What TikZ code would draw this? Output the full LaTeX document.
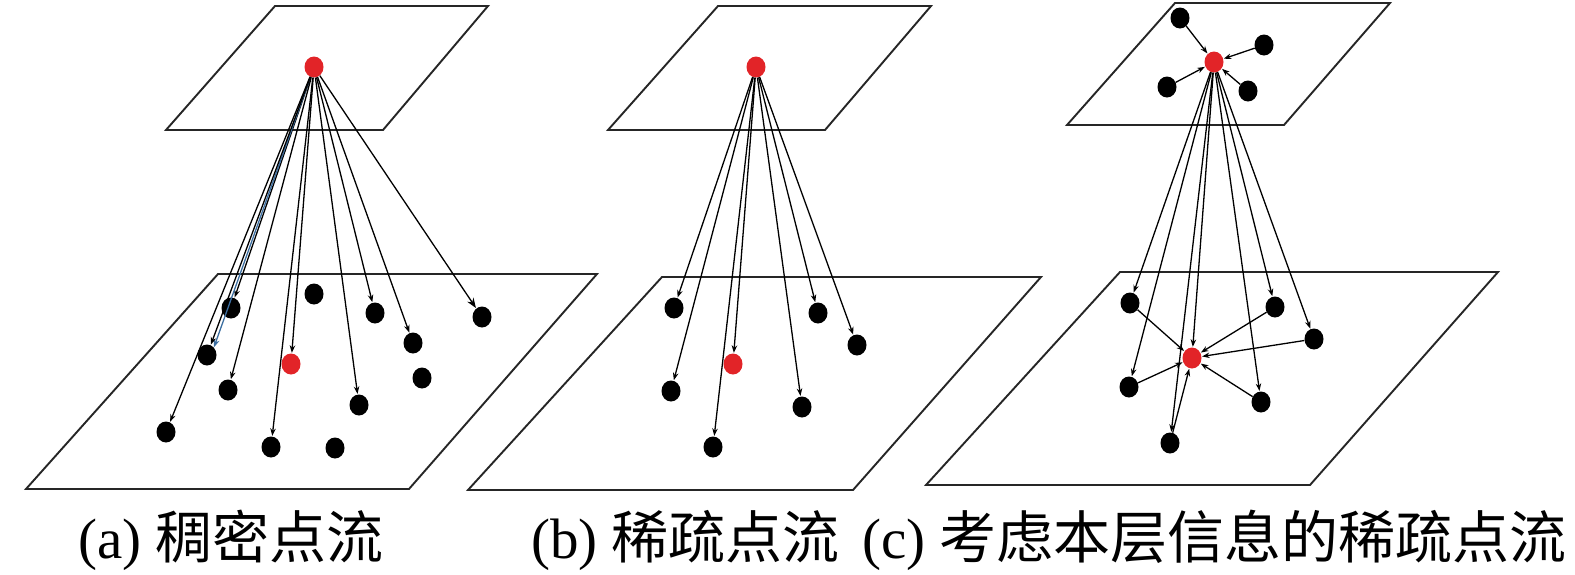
\documentclass[tikz,border=0pt]{standalone}
\usepackage{fontspec}
\setmainfont{Liberation Serif}
\newfontfamily\cjk{Noto Sans CJK SC}
\usetikzlibrary{shapes.geometric,arrows.meta}
\definecolor{dotred}{RGB}{226,36,40}
\definecolor{lineblue}{RGB}{60,110,160}
\tikzset{
  plane/.style={draw=black!85, line width=1.9pt, line join=miter},
  bdot/.style={ellipse, fill=black, minimum width=19pt, minimum height=21pt, inner sep=0pt},
  rdot/.style={ellipse, fill=dotred, minimum width=19pt, minimum height=21pt, inner sep=0pt},
  arr/.style={draw=black, line width=1.3pt, -{Stealth[length=7.5pt,width=5.5pt]}, shorten >=0.5pt},
  bigarr/.style={arr, -{Stealth[length=10pt,width=7.5pt]}},
  captext/.style={anchor=west, inner sep=0pt, font=\fontsize{57}{64}\selectfont}
}
\begin{document}
\begin{tikzpicture}[x=1pt,y=-1pt]
\useasboundingbox (0,0) rectangle (1575,574);
% ---------- panel (a) ----------
\draw[plane] (166,130) -- (383,130) -- (488,6) -- (275,6) -- cycle;
\draw[plane] (26,489) -- (409,489) -- (597,274) -- (218,274) -- cycle;
\node[rdot] (at) at (314,67) {};
\node[bdot] (a1) at (231,308) {};
\node[bdot] (a2) at (314,294) {};
\node[bdot] (a3) at (375,313) {};
\node[bdot] (a4) at (482,317) {};
\node[bdot] (a5) at (413,343) {};
\node[bdot] (a6) at (207,355) {};
\node[rdot] (ar) at (291,364) {};
\node[bdot] (a8) at (422,378) {};
\node[bdot] (a9) at (228,390) {};
\node[bdot] (a10) at (359,405) {};
\node[bdot] (a11) at (166,432) {};
\node[bdot] (a12) at (271,447) {};
\node[bdot] (a13) at (335,448) {};
\draw[arr] (at) -- (a1);
\draw[arr, draw=lineblue, {Stealth[length=8pt,width=6pt]}-] (a6.north east) -- (at);
\draw[arr] (at) -- (a6);
\draw[arr] (at) -- (a11);
\draw[arr] (at) -- (a9);
\draw[arr] (at) -- (ar);
\draw[arr] (at) -- (a12);
\draw[arr] (at) -- (a10);
\draw[arr] (at) -- (a3);
\draw[arr] (at) -- (a5);
\draw[bigarr] (at) -- (a4);
% ---------- panel (b) ----------
\draw[plane] (608,130) -- (825,130) -- (931,6) -- (718,6) -- cycle;
\draw[plane] (468,490) -- (853,490) -- (1041,277) -- (662,277) -- cycle;
\node[rdot] (bt) at (756,67) {};
\node[bdot] (b1) at (674,308) {};
\node[bdot] (b2) at (818,313) {};
\node[bdot] (b3) at (857,345) {};
\node[rdot] (br) at (733,364) {};
\node[bdot] (b5) at (671,391) {};
\node[bdot] (b6) at (802,407) {};
\node[bdot] (b7) at (713,447) {};
\foreach \t in {b1,b2,b3,br,b5,b6,b7} \draw[arr] (bt) -- (\t);
% ---------- panel (c) ----------
\draw[plane] (1067,125) -- (1284,125) -- (1390,3) -- (1175,3) -- cycle;
\draw[plane] (926,485) -- (1310,485) -- (1498,272) -- (1120,272) -- cycle;
\node[rdot] (ct) at (1214,62) {};
\node[bdot] (c1) at (1180,18) {};
\node[bdot] (c2) at (1264,45) {};
\node[bdot] (c3) at (1167,87) {};
\node[bdot] (c4) at (1248,91) {};
\foreach \s in {c1,c2,c3,c4} \draw[arr] (\s) -- (ct);
\node[bdot] (cA) at (1130,303) {};
\node[bdot] (cB) at (1275,307) {};
\node[bdot] (cC) at (1314,339) {};
\node[rdot] (cr) at (1192,358) {};
\node[bdot] (cD) at (1129,387) {};
\node[bdot] (cE) at (1261,402) {};
\node[bdot] (cF) at (1170,443) {};
\foreach \t in {cA,cD,cr,cF,cE,cB,cC} \draw[arr] (ct) -- (\t);
\foreach \s in {cA,cB,cC,cD,cE,cF} \draw[arr] (\s) -- (cr);
% ---------- captions ----------
\node[captext] (capa) at (78,540) {(a) {\cjk 稠密点流}};
\node[captext] (capb) at (531,540) {(b) {\cjk 稀疏点流}};
\node[captext] (capc) at (862,540) {(c) {\cjk 考虑本层信息的稀疏点流}};
\end{tikzpicture}
\end{document}
